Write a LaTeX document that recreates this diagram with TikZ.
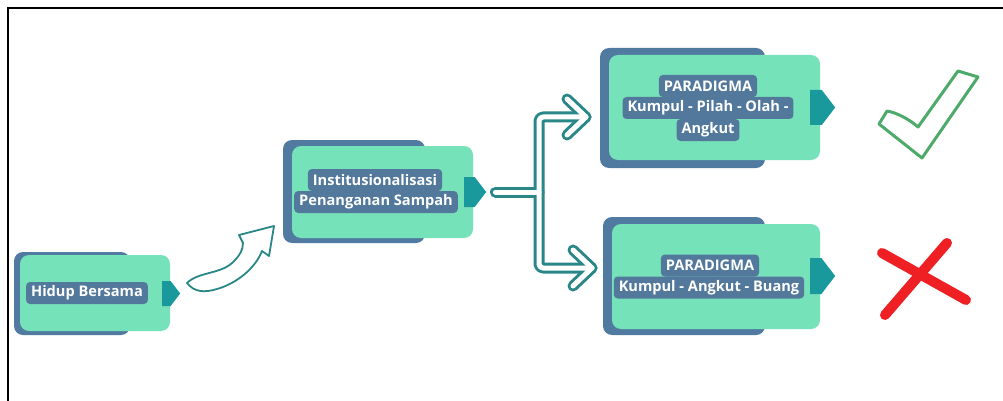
\documentclass[tikz,border=0pt]{standalone}
\usepackage{fontspec}
\setmainfont{Open Sans}
\usetikzlibrary{shapes.symbols}
\definecolor{mint}{HTML}{76E2B9}
\definecolor{steel}{HTML}{507A9F}
\definecolor{pillc}{HTML}{52789C}
\definecolor{tabc}{HTML}{1A999C}
\definecolor{arrowc}{HTML}{2A8787}
\definecolor{okc}{HTML}{4DAA6A}
\definecolor{noc}{HTML}{EE2024}
\begin{document}
\begin{tikzpicture}[x=1pt,y=-1pt,
 back/.style={fill=steel, rounded corners=9pt, draw=none, inner sep=0pt},
 front/.style={fill=mint, rounded corners=9pt, draw=none, inner sep=0pt},
 pill/.style={fill=pillc, text=white, rounded corners=4pt, inner xsep=5pt, inner ysep=0pt, minimum height=22pt, font=\fontsize{14.6}{16}\selectfont\bfseries},
 tab/.style={signal, signal to=east, fill=tabc, signal pointer angle=105, inner sep=0pt, anchor=west},
 branchout/.style={arrowc, line width=11pt, line cap=round, line join=round, rounded corners=4pt},
 branchin/.style={white, line width=5pt, line cap=round, line join=round, rounded corners=4pt},
 ]
\useasboundingbox (0,0) rectangle (1003,401);
\fill[white] (0,0) rectangle (1003,401);
\draw[black, line width=2pt] (7.5,401) -- (7.5,8.5) -- (1003,8.5);

% box 1
\node[back, minimum width=116pt, minimum height=83pt] (b1s) at (72,293.5) {};
\node[front, minimum width=150pt, minimum height=76pt] (b1) at (95,293) {};
\node[tab, minimum width=18pt, minimum height=25pt] (t1) at (162,293.5) {};
\node[pill] (l1) at (87,293) {Hidup Bersama};

% box 2
\node[back, minimum width=142pt, minimum height=103pt] (b2s) at (354,191.5) {};
\node[front, minimum width=181pt, minimum height=92pt] (b2) at (382.5,192) {};
\node[tab, minimum width=22pt, minimum height=30pt] (t2) at (464,192) {};
\node[pill] (l2a) at (375,180) {Institusionalisasi};
\node[pill] (l2b) at (376,202) {Penanganan Sampah};

% box 3
\node[back, minimum width=165pt, minimum height=120pt] (b3s) at (682.5,108) {};
\node[front, minimum width=211pt, minimum height=105pt] (b3) at (714.5,107.5) {};
\node[tab, minimum width=25pt, minimum height=35pt] (t3) at (810,107.5) {};
\node[pill] (l3a) at (708,86) {PARADIGMA};
\node[pill] (l3c) at (708,130) {Angkut};
\node[pill] (l3b) at (708,108) {Kumpul - Pilah - Olah -};

% box 4
\node[back, minimum width=162pt, minimum height=118pt] (b4s) at (684,276) {};
\node[front, minimum width=208pt, minimum height=105pt] (b4) at (716,276.5) {};
\node[tab, minimum width=25pt, minimum height=36pt] (t4) at (810,276) {};
\node[pill] (l4a) at (710,265.5) {PARADIGMA};
\node[pill] (l4b) at (709,287.5) {Kumpul - Angkut - Buang};

% branching arrow
\coordinate (jt) at (539,117);
\coordinate (jb) at (539,268);
\coordinate (ht) at (586,117);
\coordinate (hb) at (592,268);
\foreach \s in {branchout,branchin}{
  \draw[\s] ([xshift=9pt]t2.east) -- (539,192);
  \draw[\s] (ht) -- (jt) -- (jb) -- (hb);
  \draw[\s, rounded corners=0pt] ([shift={(-19,-18)}]ht) -- (ht) -- ([shift={(-19,18)}]ht);
  \draw[\s, rounded corners=0pt] ([shift={(-19,-18)}]hb) -- (hb) -- ([shift={(-19,18)}]hb);
}

% wavy arrow
\draw[arrowc, line width=1.8pt, fill=white, line join=round]
  (187,283) .. controls (198,272) and (220,274) .. (232,263)
  .. controls (240,256) and (243,249) .. (243,243)
  -- (239,235) -- (274,226) -- (269,256) -- (262,251)
  .. controls (256,267) and (238,283) .. (217,289)
  .. controls (204,293) and (194,292) .. (187,283) -- cycle;

% check mark
\draw[okc, line width=3pt, line join=round, fill=white]
  (879,124) -- (887,111) .. controls (898,113) and (910,120) .. (918,127)
  -- (958,71) -- (978,77) -- (922,158) -- cycle;

% cross
\draw[noc, line width=10pt, line cap=round] (882,253) -- (966,300);
\draw[noc, line width=10pt, line cap=round] (947,243) -- (885,315);
\end{tikzpicture}
\end{document}
